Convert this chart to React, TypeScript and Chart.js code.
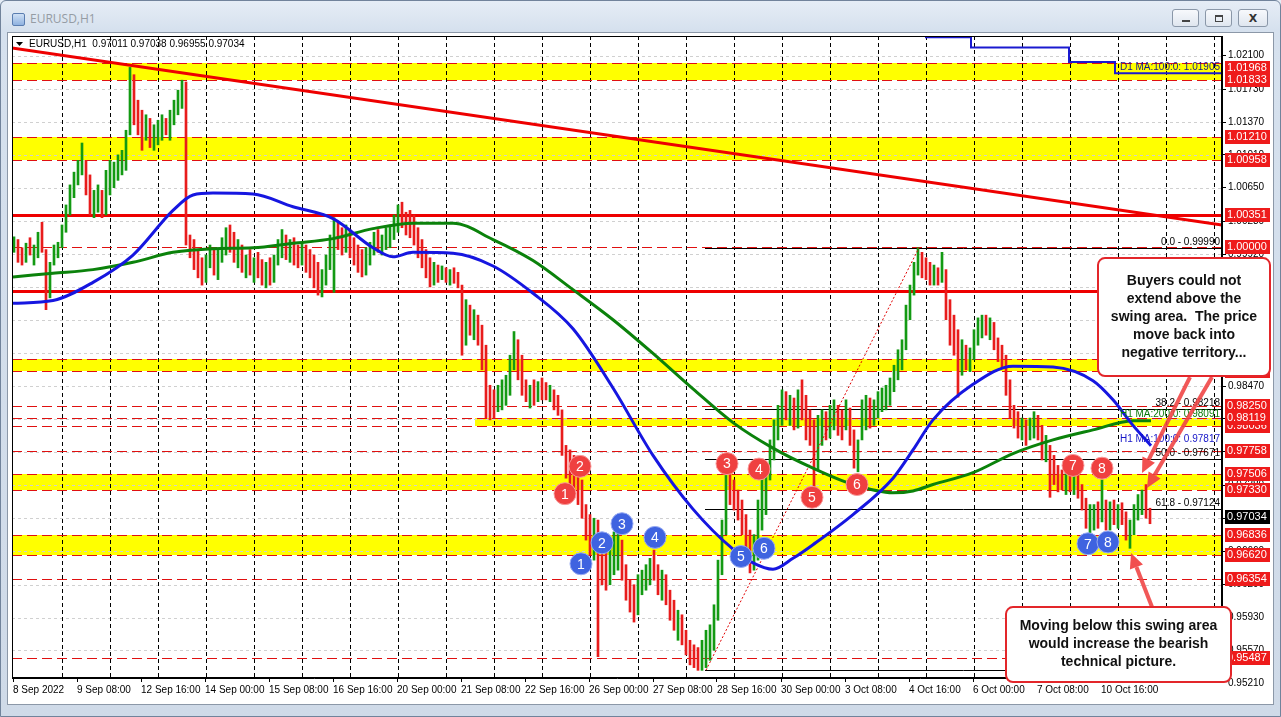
import React, { useEffect, useRef } from "react";
import { Chart, registerables } from "chart.js";

Chart.register(...registerables);

const AXIS_FONT = '"Liberation Sans", Arial, sans-serif';
const BOLD_FONT = '"Liberation Sans", Arial, sans-serif';
const AXIS_SIZE = 10;

// ---- EURUSD price bars (2-hour groups of the H1 chart): high, low, direction ----
const barHigh: number[] = [
  1.0011, 1.0008, 0.9999, 1.0004, 1.0010, 1.0002, 1.0016, 1.0027, 0.9997, 0.9983,
  1.0002, 1.0005, 1.0024, 1.0046, 1.0068, 1.0082, 1.0095, 1.0114, 1.0095, 1.0079,
  1.0062, 1.0068, 1.0062, 1.0084, 1.0095, 1.0093, 1.0101, 1.0106, 1.0128, 1.0197,
  1.0189, 1.0161, 1.0150, 1.0145, 1.0141, 1.0134, 1.0139, 1.0145, 1.0141, 1.0150,
  1.0161, 1.0172, 1.0183, 1.0181, 1.0013, 1.0008, 0.9997, 0.9988, 0.9991, 1.0002,
  0.9999, 0.9997, 1.0010, 1.0021, 1.0024, 1.0016, 1.0008, 1.0002, 0.9991, 0.9997,
  0.9988, 0.9994, 0.9986, 0.9983, 0.9988, 0.9991, 1.0008, 1.0019, 1.0013, 1.0008,
  1.0010, 1.0002, 1.0005, 1.0002, 0.9997, 0.9991, 0.9983, 0.9975, 0.9991, 1.0013,
  1.0032, 1.0027, 1.0021, 1.0024, 1.0019, 1.0010, 1.0002, 0.9997, 0.9999, 1.0005,
  1.0016, 1.0019, 1.0013, 1.0021, 1.0024, 1.0035, 1.0046, 1.0049, 1.0038, 1.0040,
  1.0035, 1.0021, 1.0008, 0.9997, 0.9988, 0.9983, 0.9980, 0.9979, 0.9977, 0.9975,
  0.9977, 0.9972, 0.9958, 0.9942, 0.9936, 0.9931, 0.9925, 0.9914, 0.9892, 0.9848,
  0.9843, 0.9848, 0.9854, 0.9859, 0.9881, 0.9907, 0.9898, 0.9881, 0.9854, 0.9848,
  0.9854, 0.9852, 0.9856, 0.9851, 0.9848, 0.9843, 0.9837, 0.9821, 0.9782, 0.9777,
  0.9771, 0.9749, 0.9744, 0.9717, 0.9706, 0.9702, 0.9700, 0.9673, 0.9667, 0.9669,
  0.9687, 0.9695, 0.9678, 0.9651, 0.9634, 0.9629, 0.9640, 0.9645, 0.9651, 0.9658,
  0.9667, 0.9651, 0.9645, 0.9640, 0.9623, 0.9612, 0.9601, 0.9596, 0.9579, 0.9568,
  0.9563, 0.9560, 0.9568, 0.9579, 0.9585, 0.9607, 0.9656, 0.9700, 0.9749, 0.9753,
  0.9744, 0.9733, 0.9722, 0.9706, 0.9689, 0.9684, 0.9722, 0.9755, 0.9757, 0.9788,
  0.9810, 0.9826, 0.9843, 0.9841, 0.9837, 0.9834, 0.9843, 0.9854, 0.9837, 0.9821,
  0.9810, 0.9815, 0.9821, 0.9819, 0.9826, 0.9832, 0.9826, 0.9821, 0.9832, 0.9823,
  0.9799, 0.9788, 0.9832, 0.9837, 0.9834, 0.9832, 0.9841, 0.9845, 0.9848, 0.9856,
  0.9870, 0.9887, 0.9898, 0.9936, 0.9958, 0.9983, 0.9999, 0.9994, 0.9988, 0.9983,
  0.9980, 0.9977, 0.9994, 0.9975, 0.9942, 0.9925, 0.9909, 0.9898, 0.9892, 0.9889,
  0.9909, 0.9922, 0.9925, 0.9925, 0.9922, 0.9917, 0.9900, 0.9892, 0.9881, 0.9854,
  0.9826, 0.9819, 0.9812, 0.9810, 0.9812, 0.9819, 0.9815, 0.9804, 0.9793, 0.9782,
  0.9771, 0.9760, 0.9755, 0.9753, 0.9755, 0.9751, 0.9753, 0.9739, 0.9724, 0.9717,
  0.9717, 0.9720, 0.9744, 0.9722, 0.9720, 0.9722, 0.9717, 0.9719, 0.9709, 0.9700,
  0.9717, 0.9728, 0.9733, 0.9739, 0.9713,
];
const barLow: number[] = [
  0.9994, 0.9983, 0.9980, 0.9983, 0.9991, 0.9980, 0.9988, 0.9994, 0.9931, 0.9944,
  0.9980, 0.9988, 0.9999, 1.0016, 1.0035, 1.0054, 1.0068, 1.0079, 1.0057, 1.0035,
  1.0032, 1.0038, 1.0032, 1.0035, 1.0057, 1.0065, 1.0073, 1.0079, 1.0084, 1.0123,
  1.0134, 1.0123, 1.0106, 1.0117, 1.0109, 1.0106, 1.0112, 1.0117, 1.0123, 1.0117,
  1.0134, 1.0145, 1.0152, 1.0002, 0.9988, 0.9975, 0.9966, 0.9958, 0.9961, 0.9977,
  0.9969, 0.9964, 0.9983, 0.9991, 0.9994, 0.9983, 0.9977, 0.9972, 0.9966, 0.9969,
  0.9961, 0.9966, 0.9958, 0.9955, 0.9958, 0.9961, 0.9980, 0.9988, 0.9986, 0.9983,
  0.9980, 0.9977, 0.9980, 0.9972, 0.9966, 0.9955, 0.9947, 0.9945, 0.9958, 0.9975,
  0.9950, 0.9997, 0.9991, 0.9994, 0.9988, 0.9980, 0.9972, 0.9967, 0.9969, 0.9980,
  0.9991, 0.9994, 0.9991, 0.9997, 0.9999, 1.0008, 1.0016, 1.0021, 1.0013, 1.0010,
  1.0002, 0.9988, 0.9977, 0.9966, 0.9956, 0.9958, 0.9961, 0.9964, 0.9961, 0.9958,
  0.9960, 0.9955, 0.9881, 0.9892, 0.9903, 0.9898, 0.9892, 0.9865, 0.9812, 0.9810,
  0.9812, 0.9819, 0.9821, 0.9826, 0.9837, 0.9865, 0.9854, 0.9837, 0.9830, 0.9823,
  0.9826, 0.9830, 0.9832, 0.9832, 0.9830, 0.9821, 0.9815, 0.9771, 0.9746, 0.9739,
  0.9733, 0.9717, 0.9702, 0.9678, 0.9662, 0.9656, 0.9550, 0.9629, 0.9623, 0.9629,
  0.9640, 0.9645, 0.9634, 0.9612, 0.9599, 0.9588, 0.9596, 0.9618, 0.9623, 0.9629,
  0.9634, 0.9618, 0.9612, 0.9607, 0.9590, 0.9579, 0.9568, 0.9563, 0.9552, 0.9541,
  0.9538, 0.9535, 0.9535, 0.9538, 0.9546, 0.9557, 0.9590, 0.9640, 0.9684, 0.9717,
  0.9711, 0.9700, 0.9684, 0.9662, 0.9642, 0.9645, 0.9656, 0.9689, 0.9706, 0.9744,
  0.9766, 0.9788, 0.9804, 0.9810, 0.9804, 0.9799, 0.9801, 0.9810, 0.9788, 0.9782,
  0.9733, 0.9755, 0.9782, 0.9788, 0.9790, 0.9799, 0.9793, 0.9788, 0.9799, 0.9782,
  0.9757, 0.9753, 0.9788, 0.9799, 0.9801, 0.9804, 0.9812, 0.9819, 0.9821, 0.9826,
  0.9841, 0.9854, 0.9865, 0.9887, 0.9920, 0.9947, 0.9969, 0.9966, 0.9964, 0.9958,
  0.9958, 0.9958, 0.9961, 0.9920, 0.9892, 0.9881, 0.9835, 0.9859, 0.9865, 0.9863,
  0.9876, 0.9892, 0.9900, 0.9903, 0.9898, 0.9887, 0.9874, 0.9867, 0.9837, 0.9812,
  0.9801, 0.9790, 0.9788, 0.9782, 0.9788, 0.9790, 0.9788, 0.9766, 0.9764, 0.9725,
  0.9739, 0.9731, 0.9733, 0.9728, 0.9731, 0.9728, 0.9724, 0.9711, 0.9691, 0.9686,
  0.9689, 0.9691, 0.9698, 0.9689, 0.9689, 0.9695, 0.9691, 0.9695, 0.9678, 0.9669,
  0.9684, 0.9700, 0.9706, 0.9702, 0.9696,
];
const barUp: number[] = [
  1, 0, 0, 1, 0, 1, 1, 0, 0, 1, 1, 1, 1, 1, 1, 1, 1, 1, 0, 0,
  1, 1, 0, 1, 1, 1, 1, 1, 1, 1, 0, 0, 0, 1, 0, 1, 1, 1, 0, 1,
  1, 1, 1, 0, 0, 0, 0, 0, 1, 1, 0, 1, 1, 1, 0, 0, 1, 0, 1, 0,
  1, 0, 0, 1, 0, 1, 1, 1, 0, 1, 0, 0, 1, 0, 0, 0, 0, 1, 1, 1,
  1, 0, 0, 1, 0, 0, 0, 0, 1, 1, 1, 0, 1, 1, 1, 1, 1, 0, 0, 0,
  0, 0, 0, 0, 0, 1, 0, 1, 0, 1, 0, 0, 0, 1, 0, 1, 0, 0, 0, 0,
  0, 1, 1, 1, 1, 1, 0, 0, 0, 1, 0, 1, 0, 0, 1, 0, 0, 0, 0, 0,
  0, 0, 0, 0, 0, 1, 0, 0, 0, 1, 1, 1, 0, 0, 0, 0, 1, 1, 1, 1,
  0, 0, 1, 0, 0, 0, 1, 0, 0, 0, 0, 0, 1, 1, 1, 1, 1, 1, 1, 0,
  0, 0, 0, 0, 0, 1, 1, 1, 1, 1, 1, 1, 1, 0, 1, 0, 1, 0, 0, 0,
  0, 1, 1, 0, 1, 1, 0, 0, 1, 0, 0, 1, 1, 1, 0, 1, 1, 1, 1, 1,
  1, 1, 1, 1, 1, 1, 1, 0, 0, 0, 1, 0, 1, 0, 0, 0, 0, 1, 0, 1,
  1, 1, 1, 0, 1, 0, 0, 0, 0, 0, 0, 0, 1, 0, 1, 1, 0, 0, 1, 0,
  0, 0, 0, 1, 0, 1, 0, 0, 0, 1, 1, 0, 1, 0, 1, 0, 1, 0, 0, 1,
  1, 1, 1, 0, 0,
];

// ---- Moving averages (H1 bar index -> price) ----
const ma100Bars = [0, 20, 40, 60, 80, 90, 100, 120, 140, 160, 180, 190, 200, 220, 240, 260, 280, 300, 320, 340, 360, 370, 380, 390, 400, 420, 440, 450, 460, 480, 500, 520, 540, 550, 560, 569];
const ma100 = [0.9938, 0.9941, 0.9961, 0.9991, 1.0040, 1.0057, 1.0059, 1.0058, 1.0044, 1.0031, 0.9999, 0.9989, 0.9994, 0.9993, 0.9979, 0.9949, 0.9910, 0.9845, 0.9771, 0.9712, 0.9668, 0.9653, 0.9646, 0.9658, 0.9673, 0.9706, 0.9746, 0.9777, 0.9810, 0.9849, 0.9869, 0.9868, 0.9853, 0.9832, 0.9804, 0.97817];
const ma200Bars = [0, 20, 40, 60, 80, 100, 120, 140, 160, 180, 200, 220, 240, 260, 280, 300, 320, 340, 360, 380, 400, 420, 440, 450, 460, 480, 500, 520, 540, 560, 569];
const ma200 = [0.9967, 0.9971, 0.9975, 0.9983, 0.9994, 0.9998, 0.9999, 1.0004, 1.0009, 1.0020, 1.0026, 1.0026, 1.0008, 0.9985, 0.9953, 0.9920, 0.9883, 0.9844, 0.9807, 0.9779, 0.9757, 0.9739, 0.9730, 0.9732, 0.9739, 0.9752, 0.9773, 0.9788, 0.9799, 0.9809, 0.98091];
const d1MaBars = [456, 479, 528, 551, 604.5];
const d1Ma = [1.0230, 1.0219, 1.0203, 1.01905, 1.01905];

// ---- Drawn objects ----
const trendBars = [-0.5, 604.5];
const trendPrices = [1.02183, 1.0024];
const fibStartBar = 346;
const fibLevels = [0.9999, 0.98218, 0.97671, 0.97124, 0.95352];
const fibNames = ["0.0", "38.2", "50.0", "61.8", "100.0"];
const fibSwingBars = [346.5, 453];
const fibSwingPrices = [0.95352, 0.9999];

const bandTops = [1.0202, 1.0121, 0.9877, 0.98119, 0.97506, 0.96836];
const bandBottoms = [1.01833, 1.00958, 0.9864, 0.98036, 0.9733, 0.9662];
const bandStartBars = [-0.5, -0.5, -0.5, 231, -0.5, -0.5];
const dashedLevels = [1.0202, 1.01833, 1.0121, 1.00958, 1.0, 0.9877, 0.9864, 0.9825, 0.98119, 0.98036, 0.97758, 0.97506, 0.9733, 0.96836, 0.9662, 0.96354, 0.95487];
const solidLevels = [1.00351, 0.99515];
const axisLevelLabels = [1.01968, 1.01833, 1.0121, 1.00958, 1.00351, 1.0, 0.99515, 0.9877, 0.9864, 0.9825, 0.98036, 0.98119, 0.97758, 0.97506, 0.9733, 0.96836, 0.9662, 0.96354, 0.95487];
const currentPrice = 0.97034;
const headerText = "EURUSD,H1  0.97011 0.97038 0.96955 0.97034";

// ---- Axes ----
const xTickBars = [0, 32, 64, 96, 128, 160, 192, 224, 256, 288, 320, 352, 384, 416, 448, 480, 512, 544];
const xTickLabels = ["8 Sep 2022", "9 Sep 08:00", "12 Sep 16:00", "14 Sep 00:00", "15 Sep 08:00", "16 Sep 16:00", "20 Sep 00:00", "21 Sep 08:00", "22 Sep 16:00", "26 Sep 00:00", "27 Sep 08:00", "28 Sep 16:00", "30 Sep 00:00", "3 Oct 08:00", "4 Oct 16:00", "6 Oct 00:00", "7 Oct 08:00", "10 Oct 16:00"];
const yTickValues = [1.021, 1.0173, 1.0137, 1.0101, 1.0065, 1.0028, 0.9992, 0.9956, 0.992, 0.9883, 0.9847, 0.9811, 0.9775, 0.9738, 0.9702, 0.9666, 0.9629, 0.9593, 0.9557];
const yExtraTick = 0.9521;
const dayGridFirstBar = 24.35;

// ---- Swing markers ----
const redSwingBars = [276, 283.5, 357, 373, 399.5, 422, 530, 544.5];
const redSwingPrices = [0.9729, 0.9759, 0.9762, 0.9756, 0.9725, 0.9739, 0.976, 0.9757];
const blueSwingBars = [284, 294.5, 304.5, 321, 364, 375.5, 537.5, 547.5];
const blueSwingPrices = [0.9652, 0.9675, 0.9696, 0.9681, 0.966, 0.9669, 0.9674, 0.9676];

// ---- Notes ----
const note1Lines = ["Buyers could not", "extend above the", "swing area.  The price", "move back into", "negative territory..."];
const note1Bars = [542.5, 628.5];
const note1Prices = [0.99877, 0.98582];
const note2Lines = ["Moving below this swing area", "would increase the bearish", "technical picture."];
const note2Bars = [496.5, 609];
const note2Prices = [0.96045, 0.95222];
const arrowFromBars = [588.5, 599.5, 569.5];
const arrowFromPrices = [0.9857, 0.9857, 0.96045];
const arrowToBars = [564.5, 567, 559];
const arrowToPrices = [0.97516, 0.97352, 0.96638];

function roundRect(ctx: any, x: number, y: number, w: number, h: number, r: number) {
  ctx.beginPath();
  ctx.moveTo(x + r, y);
  ctx.lineTo(x + w - r, y);
  ctx.arcTo(x + w, y, x + w, y + r, r);
  ctx.lineTo(x + w, y + h - r);
  ctx.arcTo(x + w, y + h, x + w - r, y + h, r);
  ctx.lineTo(x + r, y + h);
  ctx.arcTo(x, y + h, x, y + h - r, r);
  ctx.lineTo(x, y + r);
  ctx.arcTo(x, y, x + r, y, r);
  ctx.closePath();
}

const mtPlugin = {
  id: "mt4",
  beforeDatasetsDraw(chart: any) {
    const { ctx, chartArea: a, scales } = chart;
    const X = (v: number) => scales.x.getPixelForValue(v);
    const Y = (v: number) => scales.y.getPixelForValue(v);
    const snap = (p: number) => Math.round(p) + 0.5;
    ctx.save();
    ctx.beginPath();
    ctx.rect(a.left, a.top, a.right - a.left, a.bottom - a.top);
    ctx.clip();
    ctx.fillStyle = "#ffff00";
    bandTops.forEach((t, i) => {
      const x0 = Math.max(a.left, X(bandStartBars[i]));
      const y0 = Math.round(Y(t));
      const y1 = Math.round(Y(bandBottoms[i]));
      ctx.fillRect(x0, y0, a.right - x0, y1 - y0);
    });
    ctx.lineWidth = 1;
    ctx.setLineDash([3, 3]);
    ctx.strokeStyle = "#d0d0d0";
    yTickValues.forEach((v) => {
      const p = snap(Y(v));
      ctx.beginPath();
      ctx.moveTo(a.left, p);
      ctx.lineTo(a.right, p);
      ctx.stroke();
    });
    ctx.strokeStyle = "#000";
    ctx.setLineDash([4, 3]);
    for (let b = dayGridFirstBar; X(b) < a.right; b += 24) {
      const p = snap(X(b));
      ctx.beginPath();
      ctx.moveTo(p, a.top);
      ctx.lineTo(p, a.bottom);
      ctx.stroke();
    }
    ctx.strokeStyle = "#e01010";
    ctx.setLineDash([10, 5]);
    dashedLevels.forEach((v) => {
      const p = snap(Y(v));
      ctx.beginPath();
      ctx.moveTo(a.left, p);
      ctx.lineTo(a.right, p);
      ctx.stroke();
    });
    ctx.setLineDash([]);
    ctx.strokeStyle = "#000";
    fibLevels.forEach((v) => {
      const p = snap(Y(v));
      ctx.beginPath();
      ctx.moveTo(X(fibStartBar), p);
      ctx.lineTo(a.right, p);
      ctx.stroke();
    });
    ctx.strokeStyle = "#ee0000";
    ctx.lineWidth = 3;
    solidLevels.forEach((v) => {
      const p = snap(Y(v));
      ctx.beginPath();
      ctx.moveTo(a.left, p);
      ctx.lineTo(a.right, p);
      ctx.stroke();
    });
    ctx.restore();
  },
  afterDatasetsDraw(chart: any) {
    const { ctx, chartArea: a, scales } = chart;
    const X = (v: number) => scales.x.getPixelForValue(v);
    const Y = (v: number) => scales.y.getPixelForValue(v);
    ctx.save();
    ctx.font = `14px ${BOLD_FONT}`;
    ctx.textAlign = "center";
    ctx.textBaseline = "middle";
    ctx.fillStyle = "#fff";
    redSwingBars.forEach((b, i) => ctx.fillText(String(i + 1), X(b), Y(redSwingPrices[i]) + 1));
    blueSwingBars.forEach((b, i) => ctx.fillText(String(i + 1), X(b), Y(blueSwingPrices[i]) + 1));
    ctx.font = `${AXIS_SIZE}px ${AXIS_FONT}`;
    ctx.textAlign = "right";
    ctx.textBaseline = "bottom";
    ctx.fillStyle = "#000";
    fibLevels.forEach((v, i) => ctx.fillText(`${fibNames[i]} - ${v.toFixed(5)}`, a.right - 2, Y(v) - 1));
    const m100 = ma100[ma100.length - 1];
    const m200 = ma200[ma200.length - 1];
    const d1 = d1Ma[d1Ma.length - 1];
    ctx.fillStyle = "#1515c8";
    ctx.fillText(`H1 MA:100:0: ${m100.toFixed(5)}`, a.right - 2, Y(m100) - 1);
    ctx.fillStyle = "#0a7a0a";
    ctx.fillText(`H1 MA:200:0: ${m200.toFixed(5)}`, a.right - 2, Y(m200) - 1);
    ctx.fillStyle = "#16168f";
    ctx.fillText(`D1 MA:100:0: ${d1.toFixed(5)}`, a.right - 2, Y(d1) - 1);
    ctx.fillStyle = "#000";
    ctx.beginPath();
    ctx.moveTo(a.left + 4, a.top + 6);
    ctx.lineTo(a.left + 11, a.top + 6);
    ctx.lineTo(a.left + 7.5, a.top + 10);
    ctx.closePath();
    ctx.fill();
    ctx.textAlign = "left";
    ctx.textBaseline = "middle";
    ctx.fillText(headerText, a.left + 17, a.top + 8);
    ctx.restore();
  },
  afterDraw(chart: any) {
    const { ctx, chartArea: a, scales } = chart;
    const X = (v: number) => scales.x.getPixelForValue(v);
    const Y = (v: number) => scales.y.getPixelForValue(v);
    ctx.save();
    ctx.strokeStyle = "#000";
    ctx.lineWidth = 1;
    ctx.strokeRect(Math.round(a.left) + 0.5, Math.round(a.top) + 0.5, Math.round(a.right - a.left) - 1, Math.round(a.bottom - a.top) - 1);
    ctx.font = `${AXIS_SIZE}px ${AXIS_FONT}`;
    ctx.textBaseline = "middle";
    ctx.textAlign = "left";
    ctx.fillStyle = "#000";
    ctx.fillText(yExtraTick.toFixed(5), a.right + 6, Math.round(Y(yExtraTick)));
    ctx.font = `11px ${AXIS_FONT}`;
    axisLevelLabels.forEach((v) => {
      const p = Math.round(Y(v));
      ctx.fillStyle = "#ee1b1b";
      ctx.fillRect(a.right + 3, p - 7, 45, 14);
      ctx.fillStyle = "#fff";
      ctx.fillText(v.toFixed(5), a.right + 5, p);
    });
    {
      const p = Math.round(Y(currentPrice));
      ctx.fillStyle = "#000";
      ctx.fillRect(a.right + 3, p - 7, 45, 14);
      ctx.fillStyle = "#fff";
      ctx.fillText(currentPrice.toFixed(5), a.right + 5, p);
    }
    ctx.strokeStyle = "rgba(240,70,70,0.9)";
    ctx.fillStyle = "rgba(240,70,70,0.95)";
    ctx.lineWidth = 4;
    arrowFromBars.forEach((b, i) => {
      const x0 = X(b), y0 = Y(arrowFromPrices[i]);
      const x1 = X(arrowToBars[i]), y1 = Y(arrowToPrices[i]);
      const ang = Math.atan2(y1 - y0, x1 - x0);
      const hl = 15, hw = 7;
      const bx = x1 - Math.cos(ang) * hl, by = y1 - Math.sin(ang) * hl;
      ctx.beginPath();
      ctx.moveTo(x0, y0);
      ctx.lineTo(bx, by);
      ctx.stroke();
      ctx.beginPath();
      ctx.moveTo(x1, y1);
      ctx.lineTo(bx + Math.sin(ang) * hw, by - Math.cos(ang) * hw);
      ctx.lineTo(bx - Math.sin(ang) * hw, by + Math.cos(ang) * hw);
      ctx.closePath();
      ctx.fill();
    });
    const drawNote = (bars: number[], prices: number[], lines: string[]) => {
      const x0 = X(bars[0]), x1 = X(bars[1]);
      const y0 = Y(prices[0]), y1 = Y(prices[1]);
      roundRect(ctx, x0, y0, x1 - x0, y1 - y0, 7);
      ctx.fillStyle = "#fff";
      ctx.fill();
      ctx.strokeStyle = "#e3262a";
      ctx.lineWidth = 2;
      ctx.stroke();
      ctx.fillStyle = "#111";
      ctx.font = `bold 14px ${BOLD_FONT}`;
      ctx.textAlign = "center";
      ctx.textBaseline = "middle";
      const cx = (x0 + x1) / 2, cy = (y0 + y1) / 2;
      const lh = 18;
      lines.forEach((t, i) => ctx.fillText(t, cx, cy + (i - (lines.length - 1) / 2) * lh));
    };
    drawNote(note1Bars, note1Prices, note1Lines);
    drawNote(note2Bars, note2Prices, note2Lines);
    ctx.restore();
  },
};

export default function App() {
  const ref = useRef<HTMLCanvasElement>(null);
  useEffect(() => {
    const canvas = ref.current;
    if (!canvas) return;
    const pts = (xs: number[], ys: number[]) => xs.map((x, i) => ({ x, y: ys[i] }));
    const chart = new Chart(canvas, {
      type: "line",
      data: {
        datasets: [
          {
            type: "bar",
            data: barHigh.map((h, i) => ({ x: 2 * i + 0.5, y: [barLow[i], h] })),
            backgroundColor: barUp.map((u) => (u ? "#139a13" : "#e81c1c")),
            barThickness: 2,
            borderWidth: 0,
            order: 40,
          } as any,
          {
            type: "line",
            data: pts(trendBars, trendPrices),
            borderColor: "#ee0000",
            borderWidth: 3,
            pointRadius: 0,
            order: 35,
          },
          {
            type: "line",
            data: pts(fibSwingBars, fibSwingPrices),
            borderColor: "#e00000",
            borderWidth: 1,
            borderDash: [2, 2],
            pointRadius: 0,
            order: 36,
          },
          {
            type: "line",
            data: pts(ma200Bars, ma200),
            borderColor: "#0b820b",
            borderWidth: 3,
            pointRadius: 0,
            cubicInterpolationMode: "monotone",
            order: 30,
          },
          {
            type: "line",
            data: pts(ma100Bars, ma100),
            borderColor: "#1616e0",
            borderWidth: 3,
            pointRadius: 0,
            cubicInterpolationMode: "monotone",
            order: 29,
          },
          {
            type: "line",
            data: pts(d1MaBars, d1Ma),
            borderColor: "#1a1ad0",
            borderWidth: 2,
            pointRadius: 0,
            stepped: "before",
            order: 29,
          },
          {
            type: "scatter",
            data: pts(redSwingBars, redSwingPrices),
            pointRadius: 11,
            pointBackgroundColor: "#ef4040",
            pointBorderColor: "#f79a9a",
            pointBorderWidth: 1,
            order: 2,
          },
          {
            type: "scatter",
            data: pts(blueSwingBars, blueSwingPrices),
            pointRadius: 11,
            pointBackgroundColor: "#3f63e0",
            pointBorderColor: "#97aaf2",
            pointBorderWidth: 1,
            order: 1,
          },
        ] as any,
      },
      options: {
        animation: false,
        responsive: false,
        maintainAspectRatio: false,
        devicePixelRatio: 1,
        events: [],
        layout: { padding: { left: 4, top: 2, right: 0, bottom: 0 }, autoPadding: false },
        plugins: { legend: { display: false }, tooltip: { enabled: false } },
        scales: {
          x: {
            type: "linear",
            min: -0.5,
            max: 604.5,
            offset: false,
            afterBuildTicks: (s: any) => {
              s.ticks = xTickBars.map((v) => ({ value: v }));
            },
            afterFit: (s: any) => {
              s.height = 26;
              s.paddingLeft = 0;
              s.paddingRight = 0;
            },
            ticks: {
              callback: (_v: any, i: number) => xTickLabels[i],
              align: "start",
              autoSkip: false,
              maxRotation: 0,
              minRotation: 0,
              padding: 2,
              color: "#000",
              font: { family: AXIS_FONT, size: AXIS_SIZE },
            },
            grid: { drawOnChartArea: false, offset: false, tickLength: 4, color: "#000" },
            border: { display: true, color: "#000" },
          },
          y: {
            type: "linear",
            position: "right",
            min: 0.95266,
            max: 1.02315,
            beginAtZero: false,
            afterBuildTicks: (s: any) => {
              s.ticks = yTickValues.map((v) => ({ value: v }));
            },
            afterFit: (s: any) => {
              s.width = 50;
              s.paddingTop = 0;
              s.paddingBottom = 0;
            },
            ticks: {
              callback: (v: any) => Number(v).toFixed(5),
              autoSkip: false,
              padding: 2,
              color: "#000",
              font: { family: AXIS_FONT, size: AXIS_SIZE },
            },
            grid: { drawOnChartArea: false, tickLength: 4, color: "#000" },
            border: { display: true, color: "#000" },
          },
        },
      } as any,
      plugins: [mtPlugin as any],
    });
    return () => chart.destroy();
  }, []);

  const btn = (left: number, width: number, glyph: React.ReactNode) => (
    <div
      style={{
        position: "absolute",
        left,
        top: 9,
        width,
        height: 18,
        boxSizing: "border-box",
        border: "1px solid #8a97a8",
        borderRadius: 3,
        background: "linear-gradient(#f7f9fc, #dfe6ef)",
        display: "flex",
        alignItems: "center",
        justifyContent: "center",
        fontFamily: '"DejaVu Sans", sans-serif',
        fontSize: 10,
        color: "#333",
      }}
    >
      {glyph}
    </div>
  );

  return (
    <div
      style={{
        position: "fixed",
        left: 0,
        top: 0,
        width: 1281,
        height: 717,
        overflow: "hidden",
        background: "linear-gradient(to bottom, #e6edf6 0px, #d6e1ee 30px, #cfdae8 100%)",
      }}
    >
      <div style={{ position: "absolute", left: 0, top: 0, width: 1281, height: 717, boxSizing: "border-box", border: "1px solid #71839b", borderRadius: "6px 6px 0 0" }} />
      <div style={{ position: "absolute", left: 12, top: 13, width: 13, height: 13, boxSizing: "border-box", border: "1px solid #5a7db0", background: "linear-gradient(#cfe0f5, #8fb2e0)", borderRadius: 2 }} />
      <div style={{ position: "absolute", left: 30, top: 10, fontFamily: '"Open Sans", "Noto Sans", sans-serif', fontSize: 12, color: "#959ca4" }}>EURUSD,H1</div>
      {btn(1172, 27, <div style={{ width: 8, height: 2, background: "#444", marginTop: 6 }} />)}
      {btn(1205, 27, <div style={{ width: 8, height: 7, border: "1px solid #444", borderTopWidth: 2, boxSizing: "border-box" }} />)}
      {btn(1238, 30, <span style={{ fontWeight: "bold", fontSize: 11 }}>X</span>)}
      <div style={{ position: "absolute", left: 7, top: 32, width: 1267, height: 673, boxSizing: "border-box", background: "#fff", border: "1px solid #8c98a8" }} />
      <canvas ref={ref} width={1264} height={670} style={{ position: "absolute", left: 8, top: 34, width: 1264, height: 670 }} />
    </div>
  );
}
